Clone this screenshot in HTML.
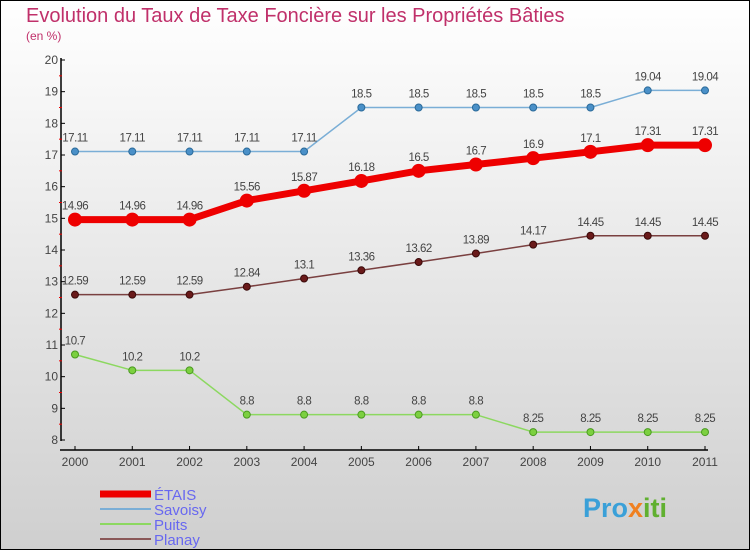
<!DOCTYPE html>
<html><head><meta charset="utf-8"><style>
body{margin:0}
svg{display:block;font-family:"Liberation Sans",sans-serif}
</style></head><body>
<svg id="c" width="750" height="550" xmlns="http://www.w3.org/2000/svg">
<defs><linearGradient id="bg" x1="0" y1="0" x2="0" y2="1"><stop offset="0" stop-color="#ffffff"/><stop offset="1" stop-color="#cfcfcf"/></linearGradient></defs>
<rect x="0.5" y="0.5" width="749" height="549" fill="url(#bg)" stroke="#000"/>
<text x="26" y="22" font-size="20" fill="#c0306a">Evolution du Taux de Taxe Foncière sur les Propriétés Bâties</text>
<text x="26" y="40" font-size="12" fill="#c0306a">(en %)</text>
<g id="axes"></g><g id="series"></g><g id="legend"></g>
<text x="583" y="517" font-size="27" font-weight="bold" fill="#3aa0d8">Pro<tspan fill="#f08020">x</tspan><tspan fill="#60b030">iti</tspan></text>
</svg>
<script>
const years=[2000,2001,2002,2003,2004,2005,2006,2007,2008,2009,2010,2011];
const etais=[14.96,14.96,14.96,15.56,15.87,16.18,16.5,16.7,16.9,17.1,17.31,17.31];
const savoisy=[17.11,17.11,17.11,17.11,17.11,18.5,18.5,18.5,18.5,18.5,19.04,19.04];
const puits=[10.7,10.2,10.2,8.8,8.8,8.8,8.8,8.8,8.25,8.25,8.25,8.25];
const planay=[12.59,12.59,12.59,12.84,13.1,13.36,13.62,13.89,14.17,14.45,14.45,14.45];
const yTicks=[8,9,10,11,12,13,14,15,16,17,18,19,20];
const NS="http://www.w3.org/2000/svg";
const X=i=>75+i*(630/11);
const Y=v=>440-(v-8)*(380/12);
function mk(t,a,p){const e=document.createElementNS(NS,t);for(const k in a)e.setAttribute(k,a[k]);p.appendChild(e);return e;}
const ax=document.getElementById('axes');
let e=mk('line',{x1:61,y1:58,x2:61,y2:441,stroke:'#000','stroke-width':1.5},ax);


e=mk('line',{x1:60,y1:450,x2:708,y2:450,stroke:'#000','stroke-width':1.5},ax);


yTicks.forEach((v,i)=>{
 mk('line',{x1:61,y1:Y(v),x2:65,y2:Y(v),stroke:'#000'},ax);
 if(i<yTicks.length-1)mk('line',{x1:59,y1:Y(v+0.5),x2:62,y2:Y(v+0.5),stroke:'#e00'},ax);
 const t=mk('text',{x:58,y:Y(v)+4,'font-size':12,fill:'#444','text-anchor':'end'},ax);
 t.textContent=v;
 
 
});
years.forEach((y,i)=>{
 mk('line',{x1:X(i),y1:446,x2:X(i),y2:450,stroke:'#000'},ax);
 const t=mk('text',{x:X(i),y:466,'font-size':12,fill:'#444','text-anchor':'middle'},ax);
 t.textContent=y;
 
 
});
const sg=document.getElementById('series');
function series(name,vals,color,w,r,dot,dotStroke){
 const g=mk('g',{},sg);
 
 
 mk('polyline',{points:vals.map((v,i)=>X(i)+','+Y(v)).join(' '),fill:'none',stroke:color,'stroke-width':w,'stroke-linejoin':'round'},g);
 vals.forEach((v,i)=>{
  const c=mk('circle',{cx:X(i),cy:Y(v),r:r,fill:dot,stroke:dotStroke,'stroke-width':1},g);
  
  
  const t=mk('text',{x:X(i),y:Y(v)-10,'font-size':11.5,fill:'#444','text-anchor':'middle','letter-spacing':'-0.5'},g);
  t.textContent=v;
  
  
 });
}
series('savoisy',savoisy,'#7aaed6',1.5,3.5,'#4a90c8','#2a6a9a');
series('puits',puits,'#8cd860',1.5,3.5,'#7cd040','#4a9a20');
series('planay',planay,'#7a4040',1.5,3.5,'#6a1a1a','#3a0a0a');
series('etais',etais,'#ee0000',7,6.5,'#ee0000','#ee0000');
const lg=document.getElementById('legend');
[['ÉTAIS','#ee0000',7],['Savoisy','#7aaed6',2],['Puits','#8cd860',2],['Planay','#8a5858',2]].forEach((d,i)=>{
 const g=mk('g',{},lg);
 
 
 const y=494+i*15;
 mk('line',{x1:100,y1:y,x2:151,y2:y,stroke:d[1],'stroke-width':d[2]},g);
 const t=mk('text',{x:154,y:y+6,'font-size':15,fill:'#6868f0'},g);
 t.textContent=d[0];
});
</script>
</body></html>
